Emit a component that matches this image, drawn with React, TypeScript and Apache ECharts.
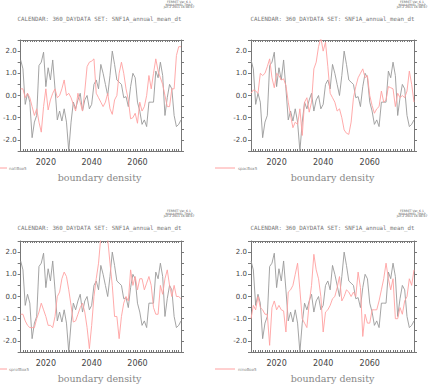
import React, { useEffect, useRef } from "react";
import * as echarts from "echarts";

const years: number[] = Array.from({ length: 71 }, (_, i) => 2009 + i);

const grayValues = [
  1.6, 1.2, -0.4, 0.1, -0.3, -1.9, -1.2, -0.9, 1.35, 1.5,
  1.95, 0.4, 1.25, 0.7, 1.6, 0.3, -1.1, -0.7, -1.15, -0.6,
  -1.2, -2.5, -1.2, -0.3, -0.6, -0.2, 0.1, -0.7, -0.2, 0.0,
  -0.6, -0.4, 0.5, 0.7, 0.3, 1.4, 1.0, 0.5, 0.0, 0.9,
  2.0, 1.4, 0.7, 0.6, 0.5, -0.1, -0.05, -0.5, 0.4, 1.0,
  0.8, -0.3, -0.7, -1.3, -1.1, -1.4, -0.3, -0.3, -0.3, 1.1,
  0.8, 1.5, 0.9, -0.9, -0.1, 0.5, 0.3, -0.9, -1.4, -1.3,
  -1.1,
];

const red1 = [
  0.3, 0.3, -0.1, 0.1, -0.1, -0.5, -0.9, -0.6, -1.2, -1.65,
  -0.5, 0.3, -0.65, -0.2, 0.1, 0.3, -0.1, 0.0, 0.3, 0.7,
  0.0, 0.1, -0.1, -0.4, -0.7, 0.1, -0.3, -0.7, 0.2, 1.3,
  1.5, 1.55, 1.65, 0.1, -0.1, -0.3, -0.5, -0.3, 0.1, -0.6,
  -0.85, -0.2, 0.0, 1.0, 1.5, 1.0, 0.3, -0.2, -1.05, -1.0,
  -0.8, -1.25, -0.3, -0.7, -0.5, 0.0, 0.9, 0.3, 1.0, 1.65,
  1.1, 0.8, 0.5, 0.0, -0.5, -0.5, 0.3, 0.3, 1.8, 2.2,
  2.2,
];

const red2 = [
  0.1, 0.25, 0.2, 0.1, 1.0, 0.9, 1.0, 1.3, 1.65, 0.8,
  0.35, 1.0, 0.9, 0.7, 0.75, 0.45, -0.3, -0.9, -1.45, -1.2,
  -1.3, -0.6, -1.8, -0.3, -0.1, -0.75, -0.3, 1.2, 1.5, 2.2,
  2.6, 2.0, 2.4, 1.3, 0.1, -0.1, -0.3, -0.7, -0.6, -1.0,
  -1.55, -1.7, -1.75, -1.2, -0.1, 0.4, 0.8, 1.0, 1.2, 0.8,
  0.9, 0.0, -0.45, -0.8, -0.6, -0.5, 0.2, -0.3, -0.2, 0.4,
  0.35, 0.3, -0.5, 0.1, -0.1, 0.0, -0.1, 0.2, 1.1, 0.5,
  -0.3,
];

const red3 = [
  -0.8, -0.8, -1.1, -1.3, -1.4, -1.4, -1.4, -1.0, -0.7, -0.3,
  -0.6, -0.9, -1.3, -1.3, -1.4, -0.9, 0.0, 0.2, 0.8, 1.1,
  0.9, 0.3, -0.4, -1.15, -1.1, -0.8, -0.5, -0.3, -0.7, -1.4,
  -2.35, -1.3, 0.0, 0.8, 1.5, 2.7, 2.9, 2.8, 2.6, 1.5,
  0.5, -0.9, -0.9, -1.9, -0.9, -0.3, 0.0, -0.2, 1.2, 0.5,
  0.9, 0.3, 0.8, 0.8, 0.3, 0.6, 0.9, 0.5, -0.5, -0.8,
  -0.8, 0.5, 0.1, 0.8, 1.2, 0.5, 0.0, 0.5, 0.0, 0.0,
  -0.1,
];

const red4 = [
  -1.0, -0.4, -0.6, 0.0, -0.5, -0.6, -0.8, -0.8, -2.2, -0.5,
  -0.2, -0.6, -0.4, -0.6, -0.65, -1.6, 0.2, 0.3, 0.5, 1.0,
  1.5, 0.3, -1.0, -1.2, -1.4, -0.3, 0.5, 1.9, 1.2, 0.8,
  0.0, -1.6, -0.7, -0.6, -0.4, -0.1, 0.0, 0.4, 0.9, -0.2,
  0.0, 0.3, 0.2, 0.0, 0.2, 0.0, 1.1, 0.4, -1.8, -0.8,
  -1.2, -1.2, -0.6, -0.6, -0.6, -0.2, 0.3, 0.8, 1.5, 0.8,
  0.3, 0.8, -1.0, -1.0, -0.5, -0.8, -0.2, 0.0, 0.8, 0.5,
  1.2,
];

const redSeries = [red1, red2, red3, red4];
const legendNames = ["natlBox5", "spacBox5", "sprofBox5", "ninoBox5"];
const titleText = "CALENDAR: 360_DAYDATA SET: SNF1A_annual_mean_dt";
const ferretLines = ["FERRET Ver. 6.1", "NOAA/PMEL TMAP", "Jun 2 2011 16:08:07"];
const bottomLabel = "boundary density";

const panels = [
  { left: 18, top: 40, dy: 0, dx: 0 },
  { left: 251, top: 40, dy: 0, dx: 215 },
  { left: 18, top: 241, dy: 201, dx: 0 },
  { left: 251, top: 241, dy: 201, dx: 215 },
];
const GW = 163;
const GH = 111;

export default function App() {
  const ref = useRef<HTMLDivElement>(null);
  useEffect(() => {
    if (!ref.current) return;
    const chart = echarts.init(ref.current, undefined, { renderer: "svg" });
    const axisColor = "#777";
    const grayColor = "#9a9a9a";
    const redColor = "#ffa0a0";
    const grid: any[] = [];
    const xAxis: any[] = [];
    const yAxis: any[] = [];
    const series: any[] = [];
    const graphic: any[] = [];
    panels.forEach((p, i) => {
      grid.push({ left: p.left, top: p.top, width: GW, height: GH });
      const xLine = { show: true, onZero: false, lineStyle: { color: axisColor, width: 1 } };
      xAxis.push({
        gridIndex: i, type: "value", min: 2009, max: 2079, interval: 1, position: "bottom",
        axisLine: xLine,
        axisTick: { show: true, inside: true, length: 2, lineStyle: { color: axisColor } },
        axisLabel: {
          fontSize: 8, color: "#444", margin: 7, fontFamily: "DejaVu Sans",
          formatter: (v: number) => (Math.round(v) % 20 === 0 ? String(Math.round(v)) : ""),
        },
        splitLine: { show: false },
      });
      xAxis.push({
        gridIndex: i, type: "value", min: 2009, max: 2079, interval: 1, position: "top",
        axisLine: xLine,
        axisTick: { show: true, inside: true, length: 2, lineStyle: { color: axisColor } },
        axisLabel: { show: false },
        splitLine: { show: false },
      });
      yAxis.push({
        gridIndex: i, type: "value", min: -2.5, max: 2.5, interval: 0.5, position: "left",
        axisLine: xLine,
        axisTick: { show: true, inside: false, length: 3, lineStyle: { color: axisColor } },
        axisLabel: {
          fontSize: 7, color: "#444", margin: 4, fontFamily: "DejaVu Sans",
          formatter: (v: number) => (Math.abs(v - Math.round(v)) < 1e-6 && Math.abs(v) < 2.4 ? v.toFixed(1) : ""),
        },
        splitLine: { show: false },
      });
      yAxis.push({
        gridIndex: i, type: "value", min: -2.5, max: 2.5, interval: 0.5, position: "right",
        axisLine: xLine,
        axisTick: { show: true, inside: false, length: 3, lineStyle: { color: axisColor } },
        axisLabel: { show: false },
        splitLine: { show: false },
      });
      series.push({
        type: "line", xAxisIndex: i * 2, yAxisIndex: i * 2, showSymbol: false, symbol: "none",
        data: years.map((y, k) => [y, grayValues[k]]),
        lineStyle: { color: grayColor, width: 0.9 }, clip: true,
      });
      series.push({
        type: "line", xAxisIndex: i * 2, yAxisIndex: i * 2, showSymbol: false, symbol: "none",
        data: years.map((y, k) => [y, redSeries[i][k]]),
        lineStyle: { color: redColor, width: 0.9 }, clip: true,
      });
      const cx = p.left + GW / 2;
      const baseY = p.dy;
      const titleY = baseY + (i >= 2 ? 27 : 19);
      graphic.push({
        type: "text", x: cx, y: titleY,
        style: { text: titleText, fontSize: 5.8, fill: "#777", fontFamily: "DejaVu Sans Mono", textAlign: "center", textVerticalAlign: "middle" },
      });
      ferretLines.forEach((t, j) => {
        graphic.push({
          type: "text", x: p.left + 161, y: baseY + j * 2.8 + (i >= 2 ? 8 : 0),
          style: { text: t, fontSize: 3, fill: "#555", fontFamily: "DejaVu Sans", textAlign: "center", textVerticalAlign: "top" },
        });
      });
      const legY = baseY + 168;
      graphic.push({
        type: "line", shape: { x1: p.dx, y1: legY, x2: p.dx + (i % 2 === 1 ? 20 : 7), y2: legY },
        style: { stroke: redColor, lineWidth: 1 },
      });
      graphic.push({
        type: "text", x: p.dx + (i % 2 === 1 ? 23 : 9), y: legY,
        style: { text: legendNames[i], fontSize: 4, fill: "#888", fontFamily: "DejaVu Sans", textVerticalAlign: "middle" },
      });
      graphic.push({
        type: "text", x: cx, y: baseY + 177,
        style: { text: bottomLabel, fontSize: 9.5, fill: "#888", fontFamily: "DejaVu Serif", textAlign: "center", textVerticalAlign: "middle" },
      });
    });
    chart.setOption({ animation: false, grid, xAxis, yAxis, series, graphic });
    return () => chart.dispose();
  }, []);
  return (
    <div
      ref={ref}
      style={{ position: "fixed", left: 0, top: 0, width: 430, height: 384, background: "#fff" }}
    />
  );
}
